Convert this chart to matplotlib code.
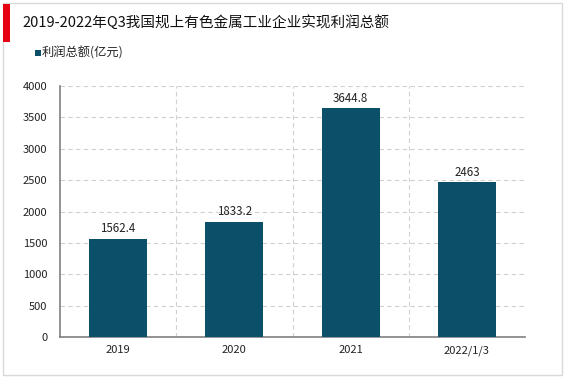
import numpy as np
import matplotlib.pyplot as plt
from matplotlib.patches import Rectangle

plt.rcParams['font.family'] = ['Noto Sans CJK SC', 'DejaVu Sans']

categories = ['2019', '2020', '2021', '2022/1/3']
profits = [1562.4, 1833.2, 3644.8, 2463]
labels = ['1562.4', '1833.2', '3644.8', '2463']

fig = plt.figure(figsize=(5.67, 3.78), dpi=100)
# outer frame and red marker
fig.patches.append(Rectangle((3/567, 3/378), 559/567, 372/378, transform=fig.transFigure,
                             fill=False, edgecolor='#d9d9d9', linewidth=1))
fig.patches.append(Rectangle((3/567, 1 - 42/378), 7/567, 38/378, transform=fig.transFigure,
                             facecolor='#e60012', edgecolor='none'))
fig.text(22/567, 1 - 22/378, '2019-2022年Q3我国规上有色金属工业企业实现利润总额',
         fontsize=10.5, va='center', ha='left', color='#111111')
fig.patches.append(Rectangle((35/567, 1 - 56/378), 6/567, 6/378, transform=fig.transFigure,
                             facecolor='#0b5068', edgecolor='none'))
fig.text(42/567, 1 - 53/378, '利润总额(亿元)', fontsize=8.8, va='center', ha='left', color='#222222')

ax = fig.add_axes([60/567, 1 - 337/378, 465/567, 251/378])
x = np.arange(len(categories))
ax.bar(x, profits, width=0.5, color='#0b5068', zorder=3)
for xi, v, t in zip(x, profits, labels):
    ax.text(xi, v + 60, t, ha='center', va='bottom', fontsize=8.3, color='#222222')

ax.set_xlim(-0.5, len(categories) - 0.5)
ax.set_ylim(0, 4000)
ax.set_yticks(np.arange(0, 4001, 500))
ax.set_xticks(x)
ax.set_xticklabels(categories)
ax.tick_params(axis='both', length=0, labelsize=8, colors='#222222')
ax.tick_params(axis='x', pad=6)
ax.tick_params(axis='y', pad=9)
ax.yaxis.grid(True, linestyle=(0, (4, 3)), color='#d0d0d0', linewidth=0.8, zorder=0)
for b in np.arange(0.5, len(categories) - 0.5, 1):
    ax.axvline(b, linestyle=(0, (4, 3)), color='#d0d0d0', linewidth=0.8, zorder=0)
for s in ['top', 'right']:
    ax.spines[s].set_visible(False)
ax.spines['left'].set_color('#808080')
ax.spines['bottom'].set_color('#808080')
ax.spines['left'].set_linewidth(1.2)
ax.spines['bottom'].set_linewidth(1.2)

fig.savefig('out.png', dpi=100)
